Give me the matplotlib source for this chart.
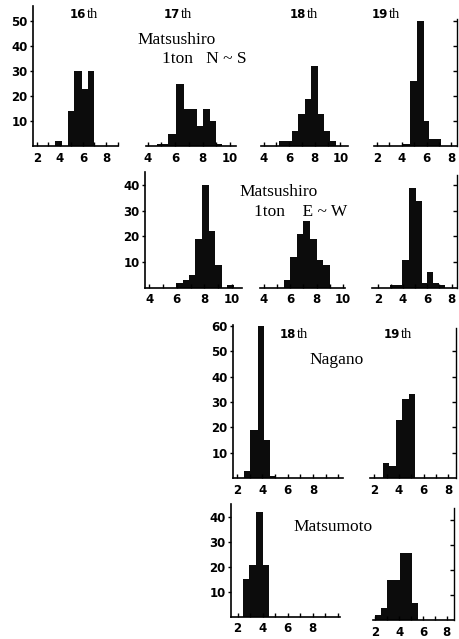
import matplotlib.pyplot as plt

# histogram data (bin edges, counts)
# Matsushiro 1ton N~S
edges_ns_16 = [3.6, 4.15, 4.7, 5.25, 5.9, 6.4, 7.0]
counts_ns_16 = [2, 0, 14, 30, 23, 30]
edges_ns_17 = [4.65, 5.5, 6.1, 6.65, 7.1, 7.6, 8.0, 8.55, 9.0, 9.4]
counts_ns_17 = [1, 5, 25, 15, 15, 8, 15, 10, 1]
edges_ns_18 = [5.2, 6.2, 6.7, 7.2, 7.7, 8.25, 8.75, 9.2, 9.7]
counts_ns_18 = [2, 6, 13, 19, 32, 13, 6, 2]
edges_ns_19 = [4.1, 4.65, 5.25, 5.8, 6.2, 7.15]
counts_ns_19 = [1, 26, 50, 10, 3]

# Matsushiro 1ton E~W
edges_ew_17 = [5.95, 6.45, 6.9, 7.35, 7.8, 8.3, 8.8, 9.3, 9.65, 10.15]
counts_ew_17 = [2, 3, 5, 19, 40, 22, 9, 0, 1]
edges_ew_18 = [5.55, 6.0, 6.5, 7.0, 7.5, 8.0, 8.5, 9.0]
counts_ew_18 = [3, 12, 21, 26, 19, 11, 9]
edges_ew_19 = [2.95, 3.95, 4.5, 5.05, 5.6, 5.95, 6.5, 7.0, 7.5]
counts_ew_19 = [1, 11, 39, 34, 2, 6, 2, 1]

# Nagano
edges_ng_18 = [2.55, 3.05, 3.65, 4.1, 4.6, 5.05]
counts_ng_18 = [3, 19, 60, 15, 1]
edges_ng_19 = [2.7, 3.2, 3.75, 4.25, 4.8, 5.3]
counts_ng_19 = [6, 5, 23, 31, 33]

# Matsumoto
edges_mm_18 = [2.4, 2.9, 3.5, 4.0, 4.5]
counts_mm_18 = [15, 21, 42, 21]
edges_mm_19 = [1.95, 2.45, 3.0, 3.55, 4.1, 4.6, 5.1, 5.6]
counts_mm_19 = [2, 5, 16, 16, 27, 27, 7]

xlabels_2_8 = [2, 4, 6, 8]
xlabels_4_10 = [4, 6, 8, 10]

W, H = 459, 639
fig = plt.figure(figsize=(W / 100, H / 100), dpi=100)

tick_font = dict(family='DejaVu Sans', weight='bold', size=8.5)
serif = ['Liberation Serif', 'DejaVu Serif']


def panel(L, R, base, top, xlim, ylim, edges, counts, xlabels,
          yside=None, yticks=(), rtop=None):
    ax = fig.add_axes([L / W, 1 - base / H, (R - L) / W, (base - top) / H])
    ax.stairs(counts, edges, fill=True, color='#0c0c0c', baseline=0)
    ax.set_xlim(*xlim)
    ax.set_ylim(*ylim)
    for s in ['top', 'left', 'right']:
        ax.spines[s].set_visible(False)
    ax.spines['bottom'].set_linewidth(1.2)
    ax.set_xticks(xlabels)
    ax.set_xticklabels([str(v) for v in xlabels], fontdict=tick_font)
    lo, hi = int(xlim[0]) + 1, int(xlim[1])
    ax.set_xticks(range(lo, hi + 1), minor=True)
    ax.tick_params(axis='x', which='both', direction='in', length=3,
                   width=1, pad=4)
    if yside == 'left':
        ax.spines['left'].set_visible(True)
        ax.spines['left'].set_linewidth(1.2)
        ax.set_yticks(yticks)
        ax.set_yticklabels([str(v) for v in yticks], fontdict=tick_font)
        ax.tick_params(axis='y', direction='out', length=2.5, width=1, pad=1.5)
    elif yside == 'right':
        ax.spines['right'].set_visible(True)
        ax.spines['right'].set_linewidth(1.0)
        if rtop is not None:
            ax.spines['right'].set_bounds(0, rtop)
        ax.yaxis.tick_right()
        ax.set_yticks(yticks)
        ax.set_yticklabels([])
        ax.tick_params(axis='y', direction='in', length=3, width=1)
    else:
        ax.set_yticks([])
    return ax


# row 1 : Matsushiro 1ton N~S
panel(33, 118, 146, 6, (1.68, 9.04), (0, 56), edges_ns_16, counts_ns_16,
      xlabels_2_8, 'left', [10, 20, 30, 40, 50])
panel(146, 236, 146, 6, (3.88, 10.44), (0, 56), edges_ns_17, counts_ns_17,
      xlabels_4_10)
panel(261, 348, 146, 6, (3.8, 10.6), (0, 56), edges_ns_18, counts_ns_18,
      xlabels_4_10)
panel(374, 457, 146, 6, (1.78, 8.45), (0, 56), edges_ns_19, counts_ns_19,
      xlabels_2_8, 'right', [10, 20, 30, 40, 50], rtop=51)

# row 2 : Matsushiro 1ton E~W
panel(145, 242, 287.7, 171.7, (3.69, 10.73), (0, 45.3), edges_ew_17,
      counts_ew_17, xlabels_4_10, 'left', [10, 20, 30, 40])
panel(260, 345, 287.7, 171.7, (3.7, 10.15), (0, 45.3), edges_ew_18,
      counts_ew_18, xlabels_4_10)
panel(372, 457, 287.7, 171.7, (1.47, 8.45), (0, 45.3), edges_ew_19,
      counts_ew_19, xlabels_2_8, 'right', [10, 20, 30, 40], rtop=44)

# row 3 : Nagano
panel(233, 343, 478.3, 325, (1.68, 10.37), (0, 60.3), edges_ng_18,
      counts_ng_18, xlabels_2_8, 'left', [10, 20, 30, 40, 50, 60])
panel(370, 456, 478.3, 325, (1.65, 8.62), (0, 60.3), edges_ng_19,
      counts_ng_19, xlabels_2_8, 'right', [10, 20, 30, 40, 50], rtop=59)

# row 4 : Matsumoto
panel(231, 340, 616.7, 504, (1.47, 10.17), (0, 45.4), edges_mm_18,
      counts_mm_18, xlabels_2_8, 'left', [10, 20, 30, 40])
panel(373, 454, 620, 508, (1.8, 8.6), (0, 45), edges_mm_19,
      counts_mm_19, xlabels_2_8, 'right', [10, 20, 30, 40], rtop=45)


def px_text(x, y, s, **kw):
    fig.text(x / W, 1 - y / H, s, va='center', **kw)


def event_label(x, y, num):
    px_text(x, y, num, ha='right', family='DejaVu Sans', weight='bold',
            size=8.5)
    px_text(x + 1, y, 'th', ha='left', family=serif, size=10.5)


event_label(86, 14, '16')
event_label(180, 15, '17')
event_label(306, 14, '18')
event_label(388, 14, '19')
event_label(296, 334, '18')
event_label(400, 334, '19')

px_text(177, 40, 'Matsushiro', ha='center', family=serif, size=12.5)
px_text(204, 59, '1ton   N ~ S', ha='center', family=serif, size=12.5)
px_text(279, 191.5, 'Matsushiro', ha='center', family=serif, size=12.5)
px_text(301, 211.5, '1ton    E ~ W', ha='center', family=serif, size=12.5)
px_text(337, 360, 'Nagano', ha='center', family=serif, size=12.5)
px_text(333, 527, 'Matsumoto', ha='center', family=serif, size=12.5)

fig.savefig('out.png', dpi=100)
